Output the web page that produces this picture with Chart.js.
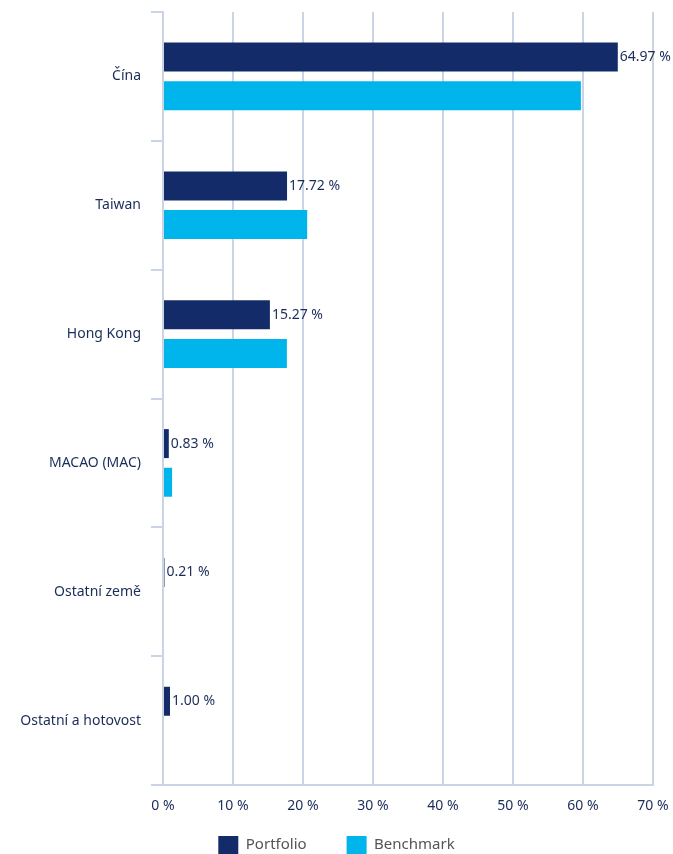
<!DOCTYPE html>
<html>
<head>
<meta charset="utf-8">
<script src="https://cdn.jsdelivr.net/npm/chart.js@4"></script>
<style>
    html, body { margin: 0; padding: 0; background: #fff; }
    #wrap { width: 673px; height: 854px; position: relative; }
</style>
</head>
<body>
<div id="wrap"><canvas id="chart"></canvas></div>
<script>
const categories = ["Čína", "Taiwan", "Hong Kong", "MACAO (MAC)", "Ostatní země", "Ostatní a hotovost"];
const portfolio = [64.97, 17.72, 15.27, 0.83, 0.21, 1.00];
const benchmark = [59.7, 20.6, 17.7, 1.3, 0, 0];
const xTicks = [0, 10, 20, 30, 40, 50, 60, 70];

const NAVY = "#132c69";
const CYAN = "#00b5eb";
const TEXT = "#1b2c5a";
const GRID = "#c9d4e4";

// labels to the right of the portfolio bars
const valueLabels = {
    id: "valueLabels",
    afterDatasetsDraw(chart) {
        const ctx = chart.ctx;
        const meta = chart.getDatasetMeta(0);
        ctx.save();
        ctx.font = "14px 'Noto Sans'";
        ctx.fillStyle = TEXT;
        ctx.textAlign = "left";
        ctx.textBaseline = "middle";
        meta.data.forEach((bar, i) => {
            ctx.fillText(portfolio[i].toFixed(2) + " %", bar.x + 2, bar.y);
        });
        ctx.restore();
    }
};

// wide gap between legend items, but a short legend box
const legendShift = 16;
const legendHeight = {
    id: "legendHeight",
    beforeInit(chart) {
        const legend = chart.legend;
        const fit = legend.fit;
        const draw = legend.draw;
        legend.fit = function () {
            fit.call(this);
            this.height = 42;
        };
        legend.draw = function () {
            this.top -= legendShift;
            draw.call(this);
            this.top += legendShift;
        };
    }
};

new Chart(document.getElementById("chart").getContext("2d"), {
    type: "bar",
    data: {
        labels: categories,
        datasets: [
            { label: "Portfolio", data: portfolio, backgroundColor: NAVY, categoryPercentage: 0.6, barPercentage: 0.75 },
            { label: "Benchmark", data: benchmark, backgroundColor: CYAN, categoryPercentage: 0.6, barPercentage: 0.75 }
        ]
    },
    options: {
        indexAxis: "y",
        responsive: true,
        maintainAspectRatio: false,
        animation: false,
        layout: { padding: { top: 12, right: 0, left: 0, bottom: 0 } },
        plugins: {
            tooltip: { enabled: false },
            legend: {
                position: "bottom",
                labels: {
                    boxWidth: 20,
                    boxHeight: 18,
                    padding: 40,
                    color: "#555",
                    font: { family: "'Noto Sans'", size: 15 }
                }
            }
        },
        scales: {
            x: {
                min: 0,
                max: 70,
                afterBuildTicks: scale => { scale.ticks = xTicks.map(v => ({ value: v })); },
                afterFit: scale => {
                    scale.height = 27;
                    scale.paddingRight = 20;
                },
                grid: { color: GRID, lineWidth: 2, drawTicks: false },
                border: { display: true, color: GRID, width: 2 },
                ticks: {
                    color: TEXT,
                    padding: 13,
                    font: { family: "'Noto Sans'", size: 14 },
                    callback: v => v + " %"
                }
            },
            y: {
                afterFit: scale => {
                    scale.width = 163;
                    scale.paddingTop = 0;
                    scale.paddingBottom = 0;
                },
                grid: { color: GRID, lineWidth: 2, offset: true, drawOnChartArea: false, tickLength: 12 },
                border: { display: true, color: GRID, width: 2 },
                ticks: {
                    color: TEXT,
                    padding: 10,
                    font: { family: "'Noto Sans'", size: 14 }
                }
            }
        }
    },
    plugins: [valueLabels, legendHeight]
});
</script>
</body>
</html>
